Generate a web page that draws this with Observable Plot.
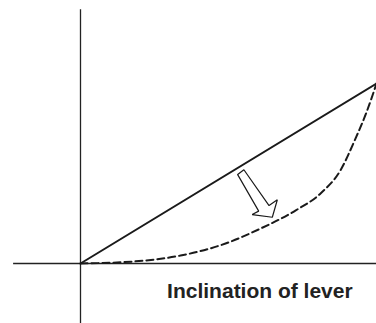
<!DOCTYPE html>
<html>
<head>
<meta charset="utf-8">
<script src="https://cdn.jsdelivr.net/npm/d3@7"></script>
<script src="https://cdn.jsdelivr.net/npm/@observablehq/plot@0.6"></script>
<style>
  html, body { margin: 0; padding: 0; background: #fff; }
  svg { display: block; }
</style>
</head>
<body>
<div id="chart"></div>
<script>
// Axis label
const xLabel = "Inclination of lever";

// Solid straight line (linear relation)
const linearX = [0, 1];
const linearY = [0, 1];

// Dashed curve
const curveX = [0, 0.179, 0.338, 0.490, 0.608, 0.726, 0.811, 0.878, 0.929, 0.966, 1.0];
const curveY = [0, 0.011, 0.044, 0.111, 0.194, 0.294, 0.389, 0.517, 0.694, 0.839, 1.0];

// Hollow arrow outline
const arrowX = [0.531, 0.552, 0.637, 0.665, 0.648, 0.580, 0.602, 0.531];
const arrowY = [0.494, 0.521, 0.322, 0.354, 0.257, 0.272, 0.291, 0.494];

// Axis line extents
const vAxisY = [-0.333, 1.41];
const hAxisX = [-0.226, 1.0];

const linear = linearX.map((x, i) => ({x, y: linearY[i]}));
const curve = curveX.map((x, i) => ({x, y: curveY[i]}));
const arrow = arrowX.map((x, i) => ({x, y: arrowY[i]}));

const chart = Plot.plot({
  width: 376,
  height: 323,
  margin: 0,
  x: {domain: [0, 1], range: [80, 376], axis: null},
  y: {domain: [0, 1], range: [263, 83], axis: null},
  marks: [
    Plot.ruleX([0], {y1: vAxisY[0], y2: vAxisY[1], stroke: "#222", strokeWidth: 1.3}),
    Plot.ruleY([0], {x1: hAxisX[0], x2: hAxisX[1], stroke: "#222", strokeWidth: 1.3}),
    Plot.line(linear, {x: "x", y: "y", stroke: "#1a1a1a", strokeWidth: 2}),
    Plot.line(curve, {x: "x", y: "y", stroke: "#1a1a1a", strokeWidth: 2, strokeDasharray: "7,4", curve: "monotone-x"}),
    Plot.line(arrow, {x: "x", y: "y", stroke: "#1a1a1a", strokeWidth: 1.2, fill: "white", strokeLinejoin: "miter"}),
    Plot.text([xLabel], {x: 0.606, y: -0.156, text: d => d, fontSize: 21, fontWeight: "bold", fill: "#222", textAnchor: "middle"})
  ],
  style: {fontFamily: "'Liberation Sans', Arial, Helvetica, sans-serif", background: "white", overflow: "visible"}
});
document.getElementById("chart").appendChild(chart);
</script>
</body>
</html>
